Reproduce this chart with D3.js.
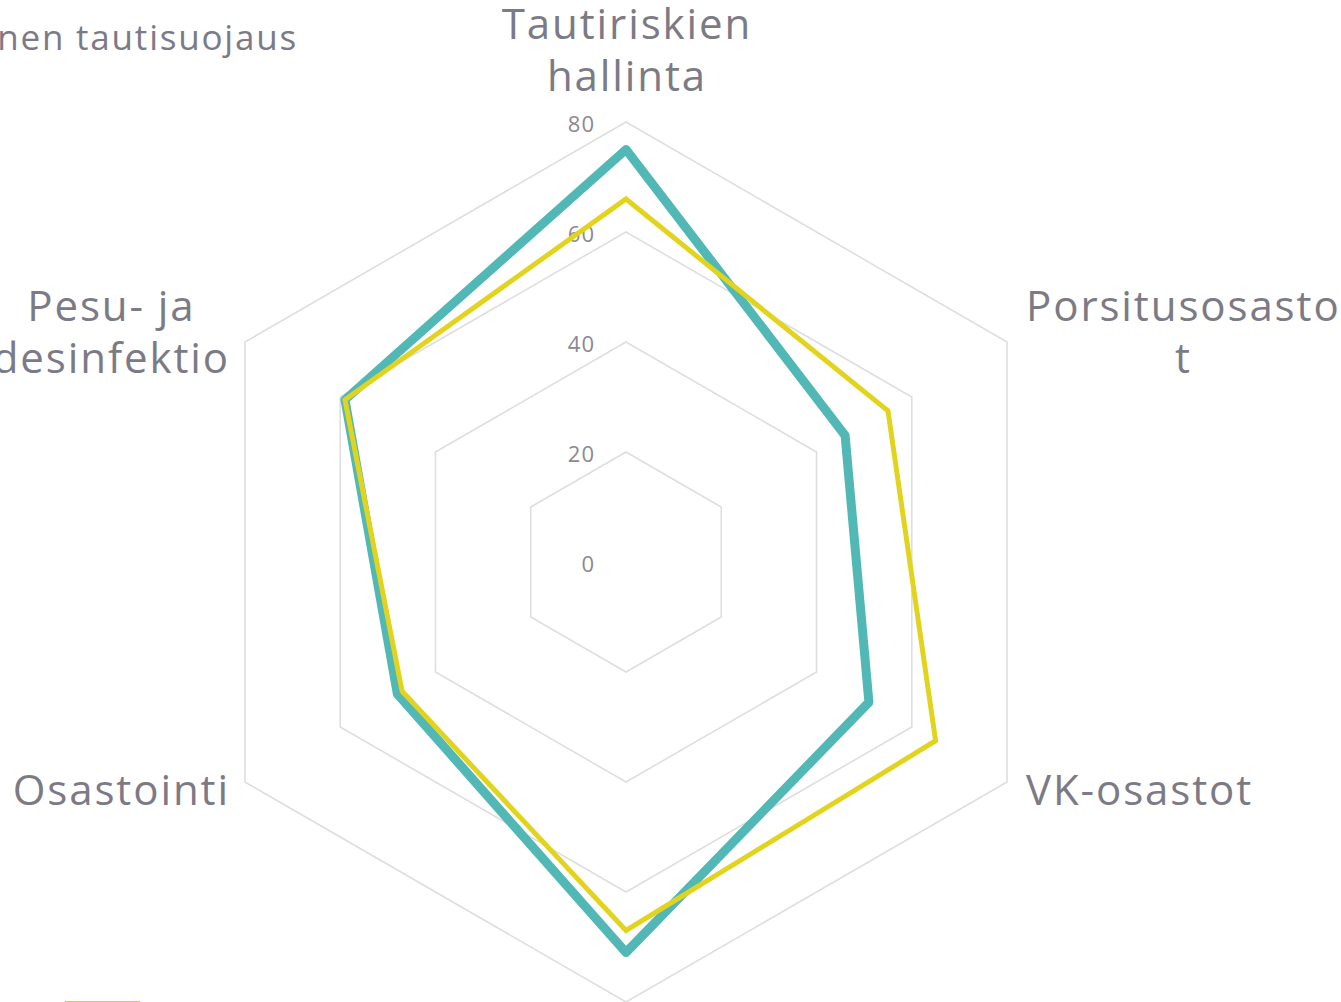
<!DOCTYPE html>
<html>
<head>
<meta charset="utf-8">
<script src="https://cdn.jsdelivr.net/npm/d3@7"></script>
<style>
  body { margin: 0; background: #fff; overflow: hidden; }
  svg { display: block; }
  text { font-family: "Open Sans", "DejaVu Sans", sans-serif; fill: #7b7a85; }
</style>
</head>
<body>
<svg id="chart" width="1341" height="1002"></svg>
<script>
const title = "Sisäinen tautisuojaus";
const categories = [
  ["Tautiriskien", "hallinta"],
  ["Porsitusosasto", "t"],
  ["VK-osastot"],
  ["Lihasikaosastot"],
  ["Osastointi"],
  ["Pesu- ja", "desinfektio"]
];
const seriesNames = ["Keskiarvo", "Tila"];
const seriesA = [75, 46, 51, 71, 48, 59];
const seriesB = [66, 55, 65, 67, 47, 59];
const tickValues = [0, 20, 40, 60, 80];
const colors = ["#52b8b6", "#e2d41e"];

const svg = d3.select("#chart");
const cx = 626, cy = 562, R = 440;
const r = d3.scaleLinear().domain([0, 80]).range([0, R]);
const angle = d3.scaleLinear().domain([0, categories.length]).range([0, 2 * Math.PI]);

const pt = (i, v) => {
  const a = angle(i);
  return [cx + r(v) * Math.sin(a), cy - r(v) * Math.cos(a)];
};

// grid rings
const ringLine = d3.line().curve(d3.curveLinearClosed);
svg.append("g").selectAll("path")
  .data(tickValues.filter(d => d > 0))
  .join("path")
  .attr("d", v => ringLine(categories.map((c, i) => pt(i, v))))
  .attr("fill", "none")
  .attr("stroke", "#dedede")
  .attr("stroke-width", 1.6);

// tick labels
svg.append("g").selectAll("text")
  .data(tickValues)
  .join("text")
  .attr("x", cx - 31)
  .attr("y", v => cy - r(v) + 1)
  .attr("text-anchor", "end")
  .attr("dominant-baseline", "central")
  .attr("font-size", 22)
  .attr("letter-spacing", 1)
  .style("fill", "#8a8992")
  .text(v => v);

// series
const lineGen = d3.line().curve(d3.curveLinearClosed);
const series = [
  { vals: seriesA, color: colors[0], width: 9, join: "round" },
  { vals: seriesB, color: colors[1], width: 5, join: "miter" }
];
svg.append("g").selectAll("path")
  .data(series)
  .join("path")
  .attr("d", s => lineGen(s.vals.map((v, i) => pt(i, v))))
  .attr("fill", "none")
  .attr("stroke", s => s.color)
  .attr("stroke-width", s => s.width)
  .attr("stroke-linejoin", s => s.join);

// axis labels
const fs = 42, lh = 52;
const lg = svg.append("g");
categories.forEach((lines, i) => {
  const [vx, vy] = pt(i, 80);
  const a = angle(i);
  const s = Math.sin(a), c = Math.cos(a);
  const g = lg.append("g");
  const texts = lines.map((l, k) => g.append("text")
    .attr("font-size", fs)
    .attr("letter-spacing", 1.9)
    .attr("dominant-baseline", "central")
    .text(l));
  const widths = texts.map(t => t.node().getComputedTextLength());
  const maxW = d3.max(widths);
  const blockH = (lines.length - 1) * lh;
  let centerX, midY;
  if (Math.abs(s) < 0.01) {
    centerX = vx;
    if (c > 0) midY = vy - 74;
    else midY = vy + 44 + blockH / 2;
  } else {
    centerX = s > 0 ? vx + 18 + maxW / 2 : vx - 16 - maxW / 2;
    midY = c > 0 ? vy - 12 : vy + 6;
  }
  texts.forEach((t, k) => t
    .attr("x", centerX + 1)
    .attr("y", midY - blockH / 2 + k * lh)
    .attr("text-anchor", "middle"));
});

// title (partially out of view)
svg.append("text")
  .attr("x", 298)
  .attr("y", 36)
  .attr("text-anchor", "end")
  .attr("dominant-baseline", "central")
  .attr("font-size", 35)
  .attr("letter-spacing", 1.8)
  .text(title);

// legend (mostly below visible area)
const leg = svg.append("g").attr("transform", "translate(65,1001)");
seriesNames.forEach((n, k) => {
  const gy = k * 40;
  leg.append("line")
    .attr("x1", k * 200).attr("x2", k * 200 + 75)
    .attr("y1", gy + 3).attr("y2", gy + 3)
    .attr("stroke", colors[(k + 1) % 2]).attr("stroke-width", 6);
  leg.append("text")
    .attr("x", k * 200 + 85).attr("y", gy + 30)
    .attr("dominant-baseline", "central")
    .attr("font-size", 26)
    .text(n);
});
</script>
</body>
</html>
